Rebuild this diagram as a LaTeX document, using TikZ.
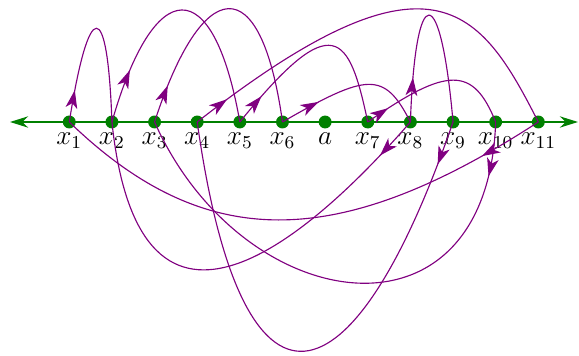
\documentclass[tikz,border=0pt]{standalone}
\usepackage{amsmath}
\usepackage{xcolor}
\usepackage{tikz}
\usetikzlibrary{arrows.meta, decorations.markings}
\definecolor{orbitgreen}{RGB}{0,128,0}
\definecolor{orbitpurple}{RGB}{128,0,128}
\tikzset{
  site/.style={circle, fill=orbitgreen, inner sep=0pt, minimum size=0.2cm},
  lbl/.style={inner sep=1.3pt, font=\fontsize{11.5}{13}\selectfont},
  hop/.style={orbitpurple, line width=0.5pt, postaction={decorate},
    decoration={markings, mark=at position #1 with {\arrow{Stealth[length=8pt,width=5.2pt,inset=2.2pt]}}}},
}

\begin{document}
\begin{tikzpicture}[x=0.66cm, y=0.66cm]
  \useasboundingbox (-0.625,-5.488) rectangle (12.954,2.861);
  \coordinate (lend) at (-0.39,0);
  \coordinate (rend) at (12.93,0);
  \draw[orbitgreen, line width=0.6pt, {Stealth[length=8pt,width=5pt]}-{Stealth[length=8pt,width=5pt]}] (lend) -- (rend);
  \foreach \k/\name/\lab in {1/x1/x_1, 2/x2/x_2, 3/x3/x_3, 4/x4/x_4, 5/x5/x_5, 6/x6/x_6, 7/a/a,
      8/x7/x_7, 9/x8/x_8, 10/x9/x_9, 11/x10/x_{10}, 12/x11/x_{11}}
    \node[site, label={[lbl]below:$\lab$}] (\name) at (\k,0) {};
  % above the line
  \draw[hop=0.5cm] (x1.center) .. controls +(81:2.95) and +(92:2.95) .. (x2.center);
  \draw[hop=0.85cm] (x2.center) .. controls +(74:3.6) and +(100:3.6) .. (x5.center);
  \draw[hop=0.6cm] (x3.center) .. controls +(72:3.6) and +(98:3.7) .. (x6.center);
  \draw[hop=0.58cm] (x4.center) .. controls +(38:7) and +(117:3) .. (x11.center);
  \draw[hop=0.52cm] (x5.center) .. controls +(51:3.5) and +(102:2.1) .. (x7.center);
  \draw[hop=0.64cm] (x6.center) .. controls +(30:2.3) and +(117:1.35) .. (x8.center);
  \draw[hop=0.38cm] (x7.center) .. controls +(35:2.3) and +(112:1.4) .. (x10.center);
  \draw[hop=0.69cm] (x8.center) .. controls +(88:3.35) and +(95:3.35) .. (x9.center);
  % below the line
  \draw[hop=0.7cm] (x9.center) .. controls +(251:7.2) and +(278:7.6) .. (x4.center);
  \draw[hop=0.85cm] (x10.center) .. controls +(268:5.5) and +(294:5) .. (x3.center);
  \draw[hop=1.02cm] (x11.center) .. controls +(213:5.66) and +(316:4.38) .. (x1.center);
  \draw[hop=0.7cm] (x8.center) .. controls +(229:3.5) and +(276:6.3) .. (x2.center);
\end{tikzpicture}
\end{document}
